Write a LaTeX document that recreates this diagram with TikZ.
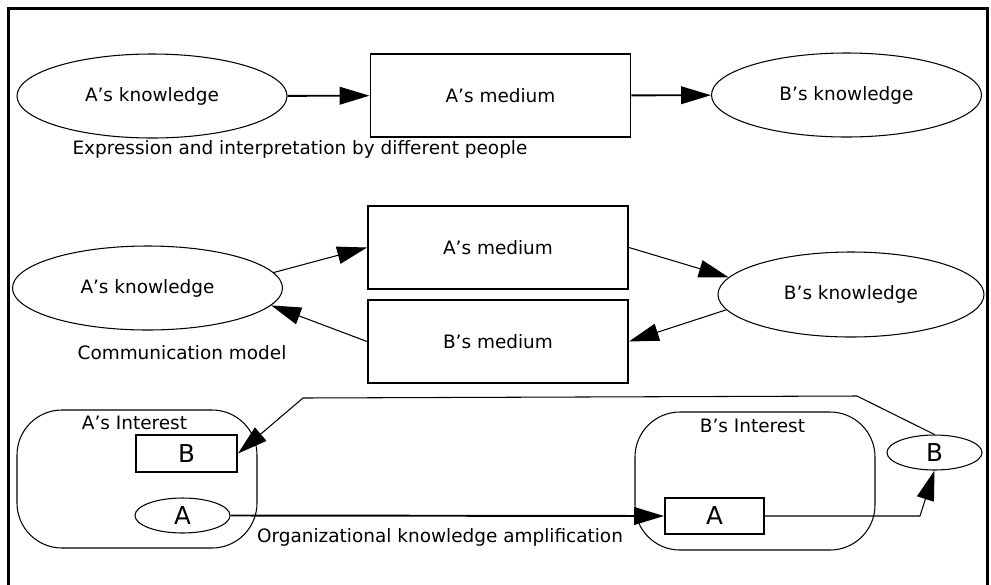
\documentclass[tikz,border=0pt]{standalone}
\usepackage{fontspec}
\setmainfont{DejaVu Sans}
\usetikzlibrary{shapes,arrows.meta}

\begin{document}
\begin{tikzpicture}[
    font=\fontsize{10.5}{13}\selectfont,
    know/.style={ellipse, draw, line width=0.6pt, inner sep=0pt, minimum width=5.4cm, minimum height=1.68cm},
    medium/.style={rectangle, draw, line width=1.1pt, inner sep=0pt, minimum width=5.2cm, minimum height=1.66cm},
    interest/.style={rectangle, draw, rounded corners=0.9cm, line width=0.6pt, minimum width=4.8cm, minimum height=2.76cm},
    letter/.style={font=\fontsize{14}{16}\selectfont},
    flow/.style={-{Triangle[length=17pt,width=10pt]}, line width=1.1pt},
    link/.style={-{Triangle[length=17pt,width=10pt]}, line width=0.6pt}
]
    \useasboundingbox (0,0) rectangle (19.82,-11.68);
    \draw[line width=1.7pt] (0.17,-0.17) rectangle (19.74,-12.2);

    % === EXPRESSION / INTERPRETATION ===
    \node[know] (ak1) at (3.04,-1.92) {A’s knowledge};
    \node[medium] (am1) at (10.01,-1.91) {A’s medium};
    \node[know] (bk1) at (16.93,-1.90) {B’s knowledge};
    \node (expr) at (6.00,-2.98) {Expression and interpretation by different people};

    \draw[flow] (ak1) -- (am1);
    \draw[flow] (am1) -- (bk1);

    % === COMMUNICATION MODEL ===
    \node[know] (ak2) at (2.95,-5.76) {A’s knowledge};
    \node[medium] (am2) at (9.96,-4.95) {A’s medium};
    \node[medium] (bm2) at (9.96,-6.83) {B’s medium};
    \node[know, minimum width=5.32cm, minimum height=1.7cm] (bk2) at (17.02,-5.89) {B’s knowledge};
    \node (comm) at (3.64,-7.06) {Communication model};

    \draw[link] (ak2.7) -- (am2.west);
    \draw[link] (am2.east) -- (bk2.172);
    \draw[link] (bk2.187) -- (bm2.east);
    \draw[link] (bm2.west) -- (ak2.352);

    % === AMPLIFICATION ===
    \node[interest] (aint) at (2.74,-9.58) {};
    \node[interest] (bint) at (15.10,-9.62) {};
    \node (aintlabel) at (2.69,-8.46) {A’s Interest};
    \node (bintlabel) at (15.05,-8.52) {B’s Interest};

    \node[medium, letter, minimum width=2.02cm, minimum height=0.74cm] (bbox) at (3.73,-9.07) {B};
    \node[know, letter, minimum width=1.9cm, minimum height=0.7cm] (aell) at (3.65,-10.31) {A};
    \node[medium, letter, minimum width=1.98cm, minimum height=0.72cm] (abox) at (14.29,-10.32) {A};
    \node[know, letter, minimum width=1.9cm, minimum height=0.7cm] (bell) at (18.69,-9.05) {B};
    \node (amplif) at (8.80,-10.74) {Organizational knowledge amplification};

    \coordinate (bend1) at (18.40,-10.32);
    \coordinate (bend2) at (17.14,-7.92);
    \coordinate (bend3) at (6.06,-7.96);

    \draw[flow] (aell.east) -- (abox.west);
    \draw[link] (abox.east) -- (bend1) -- (bell.south);
    \draw[link] (bell.north) -- (bend2) -- (bend3) -- (bbox.east);

\end{tikzpicture}
\end{document}
